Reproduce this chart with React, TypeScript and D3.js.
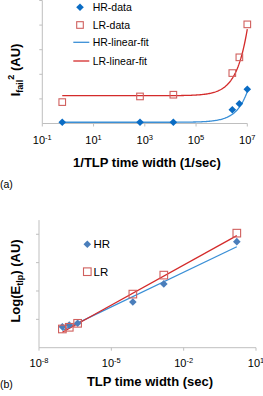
import React from "react";
import * as d3 from "d3";

// ---- Chart (a) data: 1/TLP time width (1/sec) vs Ifail^2 (AU)
const aFreq = [0.6, 650, 1.3e4, 2.6e6, 4.9e6, 1.0e7];
const aHR = [0.05, 0.05, 0.05, 0.56, 0.8, 1.39];
const aLR = [0.87, 1.1, 1.17, 2.05, 2.69, 4.03];
// linear fits y = intercept + slope * f
const aFitIntercept = [0.05, 1.13];
const aFitSlope = [1.25e-7, 2.71e-7];
const aTicks = [0.1, 10, 1e3, 1e5, 1e7];
const aTickExp = ["-1", "1", "3", "5", "7"];
const aYTicks = [1, 2, 3, 4, 5];
const aLegend = ["HR-data", "LR-data", "HR-linear-fit", "LR-linear-fit"];

// ---- Chart (b) data: TLP time width (sec) vs Log(Etlp) (AU)
const bTime = [9.3e-8, 1.8e-7, 4.0e-7, 7.8e-5, 1.5e-3, 1.6];
const bHR = [0.74, 0.8, 0.86, 1.61, 2.25, 3.74];
const bLR = [0.66, 0.72, 0.86, 1.89, 2.56, 4.04];
// fits y = intercept + slope * log10(t)
const bFitIntercept = [3.478, 3.856];
const bFitSlope = [0.408, 0.471];
const bTicks = [1e-8, 1e-5, 1e-2, 10];
const bTickExp = ["-8", "-5", "-2", "1"];
const bYTicks = [1, 2, 3, 4];
const bLegend = ["HR", "LR"];

const AXIS = "#bfbfbf";
const BLUE_MK = "#0a6cc4";
const BLUE_MK_B = "#4a7ebb";
const BLUE_LN = "#3a8fd6";
const RED_LN = "#d42b2b";
const RED_MK = "#d0605e";
const FONT = "Liberation Sans, Arial, sans-serif";

const diamond = (x: number, y: number, r: number) =>
  `M${x},${y - r}L${x + r},${y}L${x},${y + r}L${x - r},${y}Z`;

export default function App() {
  // chart (a)
  const ax = d3.scaleLog().domain([0.1, 1e7]).range([42.3, 247.3]);
  const ay = d3.scaleLinear().domain([0, 5]).range([123.5, 0.5]);
  const aFitCurves = [0, 1].map((k) => {
    const lo = Math.log10(aFreq[0]);
    const hi = Math.log10(aFreq[aFreq.length - 1]);
    const pts = d3.range(0, 201).map((i) => {
      const f = Math.pow(10, lo + ((hi - lo) * i) / 200);
      return [ax(f), ay(aFitIntercept[k] + aFitSlope[k] * f)] as [number, number];
    });
    return d3.line()(pts) as string;
  });

  // chart (b)
  const bx = d3.scaleLog().domain([1e-8, 10]).range([39, 256]);
  const by = d3.scaleLinear().domain([0, 4.5]).range([347.7, 220.1]);
  const bFitLines = [0, 1].map((k) => {
    const ends = [bTime[0], bTime[bTime.length - 1]];
    const pts = ends.map(
      (t) => [bx(t), by(bFitIntercept[k] + bFitSlope[k] * Math.log10(t))] as [number, number]
    );
    return d3.line()(pts) as string;
  });

  return (
    <svg
      width={263}
      height={396}
      style={{ position: "absolute", left: 0, top: 0, background: "#fff" }}
      fontFamily={FONT}
    >
      <rect x={0} y={0} width={263} height={396} fill="#fff" />
      {/* ===== Chart (a) ===== */}
      <g>
        <line x1={ax.range()[0]} x2={ax.range()[0]} y1={ay(0)} y2={ay(5)} stroke={AXIS} />
        <line x1={ax.range()[0]} x2={ax.range()[1]} y1={ay(0)} y2={ay(0)} stroke={AXIS} />
        {aYTicks.map((t) => (
          <line key={t} x1={ax.range()[0] - 3} x2={ax.range()[0]} y1={ay(t)} y2={ay(t)} stroke={AXIS} />
        ))}
        {aTicks.map((t, i) => (
          <g key={t}>
            <line x1={ax(t)} x2={ax(t)} y1={ay(0)} y2={ay(0) + 3} stroke={AXIS} />
            <text x={ax(t)} y={144} fontSize={11} textAnchor="middle" fill="#000">
              10<tspan fontSize={7.5} dy={-4.5}>{aTickExp[i]}</tspan>
            </text>
          </g>
        ))}
        <path d={aFitCurves[0]} fill="none" stroke={BLUE_LN} strokeWidth={1.3} />
        <path d={aFitCurves[1]} fill="none" stroke={RED_LN} strokeWidth={1.3} />
        {aFreq.map((f, i) => (
          <path key={"ah" + i} d={diamond(ax(f), ay(aHR[i]), 3.8)} fill={BLUE_MK} />
        ))}
        {aFreq.map((f, i) => (
          <rect
            key={"al" + i}
            x={ax(f) - 3.3}
            y={ay(aLR[i]) - 3.3}
            width={6.6}
            height={6.6}
            fill="none"
            stroke={RED_MK}
            strokeWidth={1.1}
          />
        ))}
        {/* legend */}
        <path d={diamond(80, 7.3, 3.8)} fill={BLUE_MK} />
        <rect x={76.7} y={21.7} width={6.6} height={6.6} fill="none" stroke={RED_MK} strokeWidth={1.1} />
        <line x1={73.3} x2={89.3} y1={42.3} y2={42.3} stroke={BLUE_LN} strokeWidth={1.3} />
        <line x1={73.3} x2={89.3} y1={61} y2={61} stroke={RED_LN} strokeWidth={1.3} />
        {aLegend.map((s, i) => (
          <text key={s} x={92.7} y={[7.3, 25, 42.3, 61][i] + 3.8} fontSize={10.5} fill="#000">
            {s}
          </text>
        ))}
        {/* axis titles */}
        <text x={147} y={167} fontSize={13} fontWeight="bold" textAnchor="middle">
          1/TLP time width (1/sec)
        </text>
        <text transform="translate(19.5,70) rotate(-90)" fontSize={13} fontWeight="bold" textAnchor="middle">
          I<tspan fontSize={9} dy={3}>fail</tspan>
          <tspan fontSize={9} dy={-9}>2</tspan>
          <tspan dy={6}> (AU)</tspan>
        </text>
        <text x={0} y={188} fontSize={10.5}>(a)</text>
      </g>

      {/* ===== Chart (b) ===== */}
      <g>
        <line x1={bx.range()[0]} x2={bx.range()[0]} y1={by(0)} y2={by(4.5)} stroke={AXIS} />
        <line x1={bx.range()[0]} x2={bx.range()[1]} y1={by(0)} y2={by(0)} stroke={AXIS} />
        {bYTicks.map((t) => (
          <line key={t} x1={bx.range()[0] - 3} x2={bx.range()[0]} y1={by(t)} y2={by(t)} stroke={AXIS} />
        ))}
        {bTicks.map((t, i) => (
          <g key={t}>
            <line x1={bx(t)} x2={bx(t)} y1={by(0)} y2={by(0) + 3} stroke={AXIS} />
            <text x={bx(t)} y={367} fontSize={11} textAnchor="middle" fill="#000">
              10<tspan fontSize={7.5} dy={-4.5}>{bTickExp[i]}</tspan>
            </text>
          </g>
        ))}
        <path d={bFitLines[0]} fill="none" stroke={BLUE_LN} strokeWidth={1.3} />
        <path d={bFitLines[1]} fill="none" stroke={RED_LN} strokeWidth={1.3} />
        {bTime.map((t, i) => (
          <path key={"bh" + i} d={diamond(bx(t), by(bHR[i]), 3.8)} fill={BLUE_MK_B} />
        ))}
        {bTime.map((t, i) => (
          <rect
            key={"bl" + i}
            x={bx(t) - 3.8}
            y={by(bLR[i]) - 3.8}
            width={7.6}
            height={7.6}
            fill="none"
            stroke={RED_MK}
            strokeWidth={1.1}
          />
        ))}
        {/* legend */}
        <path d={diamond(87.3, 244.3, 3.8)} fill={BLUE_MK_B} />
        <rect x={83.5} y={267.9} width={7.6} height={7.6} fill="none" stroke={RED_MK} strokeWidth={1.1} />
        {bLegend.map((s, i) => (
          <text key={s} x={93.5} y={[244.3, 271.7][i] + 4} fontSize={11.5} fill="#000">
            {s}
          </text>
        ))}
        <text x={150} y={386} fontSize={13} fontWeight="bold" textAnchor="middle">
          TLP time width (sec)
        </text>
        <text transform="translate(19.5,281) rotate(-90)" fontSize={13} fontWeight="bold" textAnchor="middle">
          Log(E<tspan fontSize={9} dy={3}>tlp</tspan>
          <tspan dy={-3}>) (AU)</tspan>
        </text>
        <text x={0} y={388} fontSize={10.5}>(b)</text>
      </g>
    </svg>
  );
}
